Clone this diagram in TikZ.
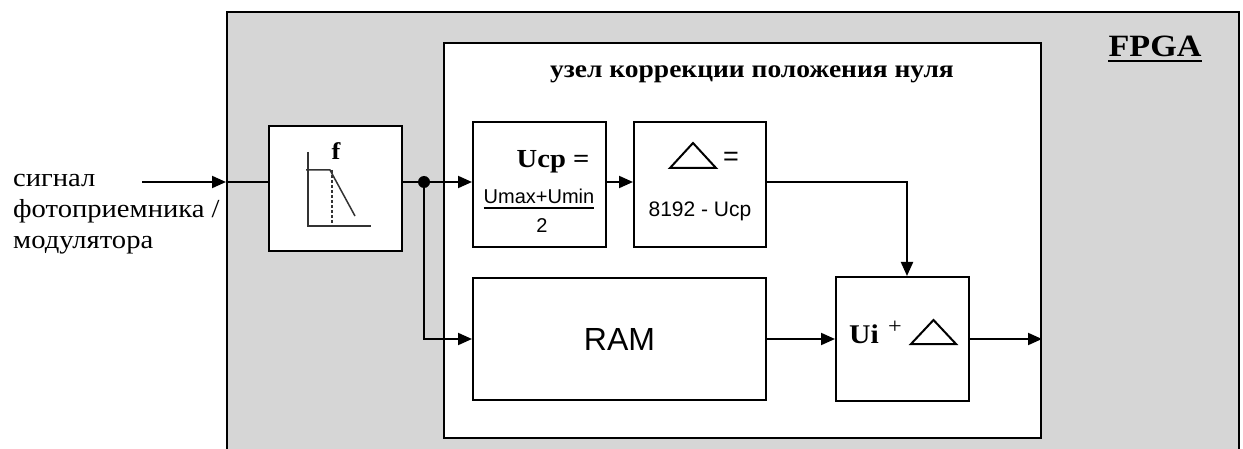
\documentclass[tikz,border=0pt]{standalone}
\usepackage{fontspec}
\setsansfont{Liberation Sans}
\newfontfamily\serifw{Liberation Serif}[FakeStretch=1.1]
\usepackage{tikz}
\usetikzlibrary{arrows.meta,positioning,calc}
\usepackage{xcolor}
\definecolor{fpgagray}{RGB}{214,214,214}
\tikzset{
  frame/.style={draw=black, line width=2pt, inner sep=0pt, anchor=north west},
  block/.style={draw=black, fill=white, line width=2pt, inner sep=0pt, anchor=north west},
  arrow/.style={-{Triangle[length=14pt,width=12pt]}, line width=2pt},
  wire/.style={line width=2pt},
  dot/.style={circle, fill=black, minimum size=12pt, inner sep=0pt},
  sertxt/.style={font=\serifw\fontsize{26}{31}\selectfont, inner sep=0pt},
  serbold/.style={font=\serifw\bfseries\fontsize{26}{31}\selectfont, inner sep=0pt},
  sanstxt/.style={font=\sffamily\fontsize{20}{24}\selectfont, inner sep=0pt},
  plotline/.style={draw=black!80, line width=1.5pt}
}

\begin{document}
\begin{tikzpicture}[x=1pt, y=-1pt]
\useasboundingbox (0,0) rectangle (1243,449);
\clip (0,0) rectangle (1243,449);
% containers
\node[frame, fill=fpgagray, minimum width=1012pt, minimum height=480pt] (fpga) at (226,11) {};
\node[block, minimum width=597pt, minimum height=395pt] (corr) at (443,42) {};
% blocks
\node[block, minimum width=133pt, minimum height=125pt] (filt) at (268,125) {};
\node[block, minimum width=133pt, minimum height=125pt] (avg) at (472,121) {};
\node[block, minimum width=132pt, minimum height=125pt] (dlt) at (633,121) {};
\node[block, minimum width=293pt, minimum height=122pt, font=\sffamily\fontsize{32}{38}\selectfont] (ram) at (472,277) {RAM};
\node[block, minimum width=133pt, minimum height=124pt] (sum) at (835,276) {};
% labels
\node[sertxt, align=left, anchor=west, text depth=0pt] (sig) at (13,211) {сигнал\\фотоприемника /\\модулятора};
\node[serbold, anchor=base, font=\serifw\bfseries\fontsize{25}{30}\selectfont] (title) at (752,78) {узел коррекции положения нуля};
\node[serbold, anchor=base, font=\serifw\bfseries\fontsize{31}{36}\selectfont] (fpgalbl) at (1155,57) {FPGA};
\draw[line width=2pt] ([yshift=-4pt]fpgalbl.base west) -- ([yshift=-4pt]fpgalbl.base east);
% filter
\node[serbold, anchor=base, font=\serifw\bfseries\fontsize{24}{28}\selectfont] (fsym) at (336,160) {f};
\draw[plotline] (308,152) -- (308,226) -- (371,226);
\draw[plotline] (306,170) -- (330,170) -- (355,216);
\draw[plotline, line width=1.2pt, dash pattern=on 3pt off 2pt] (332,170) -- (332,226);
% mean value
\node[serbold, anchor=base] (ucp) at (553,168) {Ucp =};
\node[sanstxt, anchor=base] (num) at (539,204) {Umax+Umin};
\draw[line width=2pt] ([yshift=-4pt]num.base west) -- ([yshift=-4pt]num.base east);
\node[sanstxt, anchor=base] (den) at (542,233) {2};
% offset
\draw[line width=2pt] (670,168) -- (693,143) -- (716,168) -- cycle;
\node[sanstxt, anchor=base, font=\sffamily\fontsize{27}{30}\selectfont] (eq) at (731,166) {=};
\node[sanstxt, anchor=base, font=\sffamily\fontsize{21}{25}\selectfont] (offs) at (700,217) {8192 - Ucp};
% sum
\node[serbold, anchor=base west, font=\serifw\bfseries\fontsize{27}{31}\selectfont] (ui) at (849,343) {Ui};
\node[sertxt, font=\serifw\fontsize{22}{26}\selectfont] (plus) at (895,327) {+};
\draw[line width=2pt] (911,344) -- (933.5,320) -- (956,344) -- cycle;
% connections
\coordinate (src) at (142,182);
\coordinate (split) at (424,182);
\draw[arrow] (src) -- (src -| fpga.west);
\draw[wire] (src -| fpga.west) -- (src -| filt.west);
\draw[wire] (split -| filt.east) -- (split);
\node[dot] at (split) {};
\draw[arrow] (split) -- (split -| avg.west);
\draw[arrow] (split -| avg.east) -- (split -| dlt.west);
\draw[arrow] (split -| dlt.east) -| ([xshift=4.5pt]sum.north);
\draw[arrow] (split) |- (ram.west);
\draw[arrow] (ram.east) -- (sum.west);
\draw[arrow] (sum.east) -- (sum.east -| corr.east);
\end{tikzpicture}
\end{document}
